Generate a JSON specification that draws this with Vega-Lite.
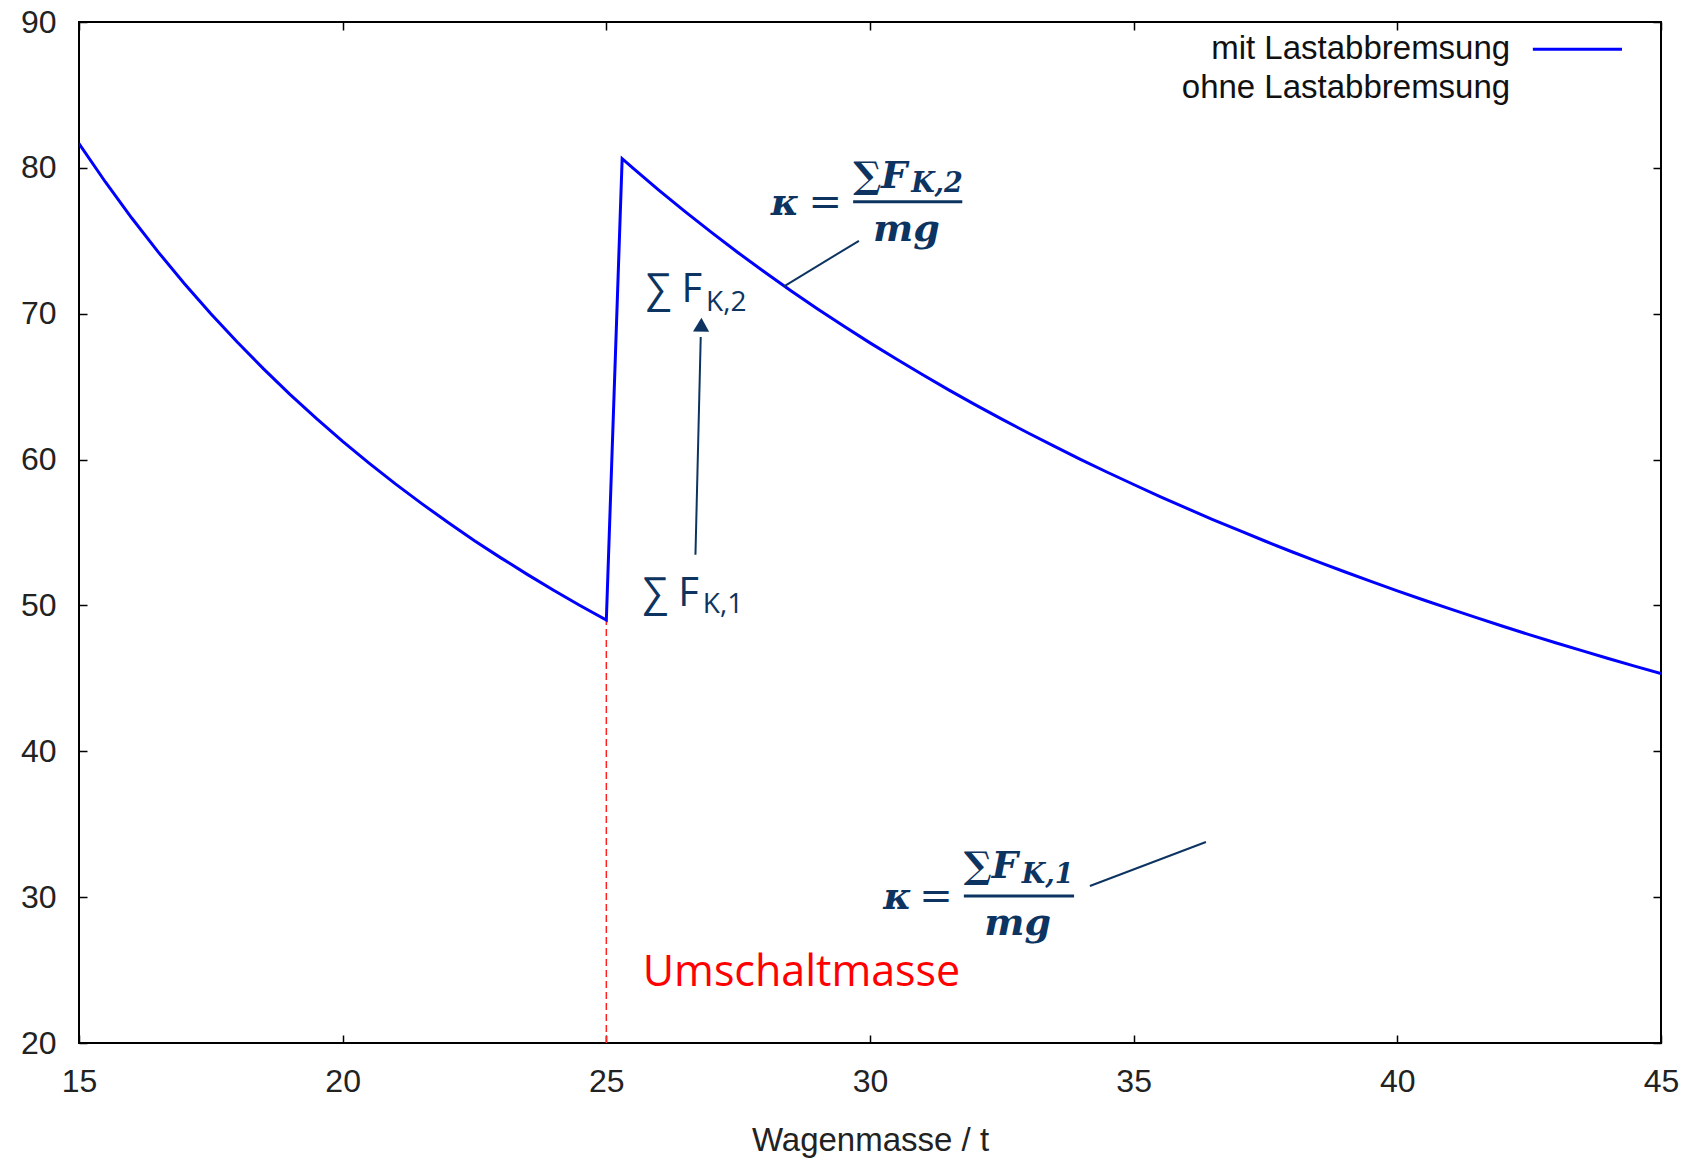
{
  "$schema": "https://vega.github.io/schema/vega-lite/v6.json",
  "autosize": {"type": "none"},
  "width": 1582,
  "height": 1021,
  "padding": {"left": 79, "top": 22, "right": 38, "bottom": 116},
  "background": "white",
  "config": {
    "view": {"stroke": "black", "strokeWidth": 2},
    "axis": {
      "domain": false,
      "grid": false,
      "tickColor": "black",
      "tickWidth": 1.5,
      "tickSize": -8,
      "labelFlush": false,
      "labelOverlap": false,
      "labelFont": "Liberation Sans",
      "labelFontSize": 32,
      "labelColor": "#222222",
      "titleFont": "Liberation Sans",
      "titleFontSize": 33,
      "titleFontWeight": "normal",
      "titleColor": "#222222"
    }
  },
  "datasets": {
    "curve": [
      {"m": 15, "k": 81.67}, {"m": 15.5, "k": 79.03}, {"m": 16, "k": 76.56}, {"m": 16.5, "k": 74.24},
      {"m": 17, "k": 72.06}, {"m": 17.5, "k": 70.0}, {"m": 18, "k": 68.06}, {"m": 18.5, "k": 66.22},
      {"m": 19, "k": 64.47}, {"m": 19.5, "k": 62.82}, {"m": 20, "k": 61.25}, {"m": 20.5, "k": 59.76},
      {"m": 21, "k": 58.33}, {"m": 21.5, "k": 56.98}, {"m": 22, "k": 55.68}, {"m": 22.5, "k": 54.44},
      {"m": 23, "k": 53.26}, {"m": 23.5, "k": 52.13}, {"m": 24, "k": 51.04}, {"m": 24.5, "k": 50.0},
      {"m": 25, "k": 49.0},
      {"m": 25.3, "k": 80.63}, {"m": 25.5, "k": 80.0}, {"m": 26, "k": 78.46}, {"m": 26.5, "k": 76.98},
      {"m": 27, "k": 75.56}, {"m": 27.5, "k": 74.18}, {"m": 28, "k": 72.86}, {"m": 28.5, "k": 71.58},
      {"m": 29, "k": 70.34}, {"m": 29.5, "k": 69.15}, {"m": 30, "k": 68.0}, {"m": 30.5, "k": 66.89},
      {"m": 31, "k": 65.81}, {"m": 31.5, "k": 64.76}, {"m": 32, "k": 63.75}, {"m": 32.5, "k": 62.77},
      {"m": 33, "k": 61.82}, {"m": 33.5, "k": 60.9}, {"m": 34, "k": 60.0}, {"m": 34.5, "k": 59.13},
      {"m": 35, "k": 58.29}, {"m": 35.5, "k": 57.46}, {"m": 36, "k": 56.67}, {"m": 36.5, "k": 55.89},
      {"m": 37, "k": 55.14}, {"m": 37.5, "k": 54.4}, {"m": 38, "k": 53.68}, {"m": 38.5, "k": 52.99},
      {"m": 39, "k": 52.31}, {"m": 39.5, "k": 51.65}, {"m": 40, "k": 51.0}, {"m": 40.5, "k": 50.37},
      {"m": 41, "k": 49.76}, {"m": 41.5, "k": 49.16}, {"m": 42, "k": 48.57}, {"m": 42.5, "k": 48.0},
      {"m": 43, "k": 47.44}, {"m": 43.5, "k": 46.9}, {"m": 44, "k": 46.36}, {"m": 44.5, "k": 45.84},
      {"m": 45, "k": 45.33}
    ]
  },
  "resolve": {"axis": {"x": "independent", "y": "independent"}},
  "layer": [
    {
      "data": {"values": [{"x": 25, "y": 20, "y2": 49}]},
      "mark": {"type": "rule", "color": "#ff2020", "strokeWidth": 1.5, "strokeDash": [7, 4]},
      "encoding": {
        "x": {"field": "x", "type": "quantitative", "scale": {"domain": [15, 45], "nice": false, "zero": false},
              "axis": {"orient": "top", "labels": false, "values": [15, 20, 25, 30, 35, 40, 45], "title": null}},
        "y": {"field": "y", "type": "quantitative", "scale": {"domain": [20, 90], "nice": false, "zero": false},
              "axis": {"orient": "right", "labels": false, "values": [20, 30, 40, 50, 60, 70, 80, 90], "title": null}},
        "y2": {"field": "y2"}
      }
    },
    {
      "data": {"name": "curve"},
      "mark": {"type": "line", "color": "#0000ff", "strokeWidth": 3, "clip": true},
      "encoding": {
        "x": {"field": "m", "type": "quantitative",
              "axis": {"orient": "bottom", "values": [15, 20, 25, 30, 35, 40, 45], "labelPadding": 31,
                       "title": "Wagenmasse / t", "titleBaseline": "middle", "titleY": 97}},
        "y": {"field": "k", "type": "quantitative",
              "axis": {"orient": "left", "values": [20, 30, 40, 50, 60, 70, 80, 90], "labelPadding": 31, "title": null}}
      }
    },
    {
      "data": {"values": [
        {"x": 28.37, "y": 71.88, "x2": 29.79, "y2": 75.0},
        {"x": 34.17, "y": 30.76, "x2": 36.37, "y2": 33.78},
        {"x": 26.69, "y": 53.47, "x2": 26.79, "y2": 68.4}
      ]},
      "mark": {"type": "rule", "color": "#0d3461", "strokeWidth": 2},
      "encoding": {
        "x": {"field": "x", "type": "quantitative", "axis": null},
        "y": {"field": "y", "type": "quantitative", "axis": null},
        "x2": {"field": "x2"},
        "y2": {"field": "y2"}
      }
    },
    {
      "data": {"values": [{"x": 26.8, "y": 69.25}]},
      "mark": {"type": "point", "shape": "triangle-up", "filled": true, "color": "#0d3461", "size": 260, "opacity": 1, "angle": 1.5},
      "encoding": {
        "x": {"field": "x", "type": "quantitative", "axis": null},
        "y": {"field": "y", "type": "quantitative", "axis": null}
      }
    },
    {
      "data": {"values": [
        {"x": 29.68, "y": 77.68, "x2": 31.75},
        {"x": 31.78, "y": 30.08, "x2": 33.87}
      ]},
      "mark": {"type": "rule", "color": "#0d3461", "strokeWidth": 3},
      "encoding": {
        "x": {"field": "x", "type": "quantitative", "axis": null},
        "y": {"field": "y", "type": "quantitative", "axis": null},
        "x2": {"field": "x2"}
      }
    },
    {
      "data": {"values": [
        {"t": "∑ F", "x": 25.75, "y": 71.61},
        {"t": "∑ F", "x": 25.69, "y": 50.77}
      ]},
      "mark": {"type": "text", "font": "Open Sans", "fontSize": 40, "color": "#0d3461", "align": "left", "baseline": "middle"},
      "encoding": {
        "x": {"field": "x", "type": "quantitative", "axis": null},
        "y": {"field": "y", "type": "quantitative", "axis": null},
        "text": {"field": "t"}
      }
    },
    {
      "data": {"values": [
        {"t": "K,2", "x": 26.89, "y": 70.72},
        {"t": "K,1", "x": 26.83, "y": 50.02}
      ]},
      "mark": {"type": "text", "font": "Open Sans", "fontSize": 28, "color": "#0d3461", "align": "left", "baseline": "middle"},
      "encoding": {
        "x": {"field": "x", "type": "quantitative", "axis": null},
        "y": {"field": "y", "type": "quantitative", "axis": null},
        "text": {"field": "t"}
      }
    },
    {
      "data": {"values": [{"t": "Umschaltmasse", "x": 25.69, "y": 24.8}]},
      "mark": {"type": "text", "font": "Open Sans", "fontSize": 43, "color": "#ff0000", "align": "left", "baseline": "middle"},
      "encoding": {
        "x": {"field": "x", "type": "quantitative", "axis": null},
        "y": {"field": "y", "type": "quantitative", "axis": null},
        "text": {"field": "t"}
      }
    },
    {
      "data": {"values": [
        {"t": "κ", "x": 28.12, "y": 77.5},
        {"t": "κ", "x": 30.25, "y": 29.94}
      ]},
      "mark": {"type": "text", "font": "DejaVu Serif", "fontSize": 38, "fontWeight": "bold", "fontStyle": "italic", "color": "#0d3461", "align": "left", "baseline": "middle"},
      "encoding": {
        "x": {"field": "x", "type": "quantitative", "axis": null},
        "y": {"field": "y", "type": "quantitative", "axis": null},
        "text": {"field": "t"}
      }
    },
    {
      "data": {"values": [
        {"t": "=", "x": 29.15, "y": 77.6},
        {"t": "=", "x": 31.25, "y": 30.04}
      ]},
      "mark": {"type": "text", "font": "DejaVu Serif", "fontSize": 40, "fontWeight": "normal", "color": "#0d3461", "align": "center", "baseline": "middle"},
      "encoding": {
        "x": {"field": "x", "type": "quantitative", "axis": null},
        "y": {"field": "y", "type": "quantitative", "axis": null},
        "text": {"field": "t"}
      }
    },
    {
      "data": {"values": [
        {"t": "∑F", "x": 29.68, "y": 79.35},
        {"t": "∑F", "x": 31.78, "y": 32.06}
      ]},
      "mark": {"type": "text", "font": "DejaVu Serif", "fontSize": 37, "fontWeight": "bold", "fontStyle": "italic", "color": "#0d3461", "align": "left", "baseline": "middle"},
      "encoding": {
        "x": {"field": "x", "type": "quantitative", "axis": null},
        "y": {"field": "y", "type": "quantitative", "axis": null},
        "text": {"field": "t"}
      }
    },
    {
      "data": {"values": [
        {"t": "K,2", "x": 30.78, "y": 78.87},
        {"t": "K,1", "x": 32.88, "y": 31.51}
      ]},
      "mark": {"type": "text", "font": "DejaVu Serif", "fontSize": 27, "fontWeight": "bold", "fontStyle": "italic", "color": "#0d3461", "align": "left", "baseline": "middle"},
      "encoding": {
        "x": {"field": "x", "type": "quantitative", "axis": null},
        "y": {"field": "y", "type": "quantitative", "axis": null},
        "text": {"field": "t"}
      }
    },
    {
      "data": {"values": [
        {"t": "mg", "x": 30.69, "y": 75.72},
        {"t": "mg", "x": 32.8, "y": 28.16}
      ]},
      "mark": {"type": "text", "font": "DejaVu Serif", "fontSize": 38, "fontWeight": "bold", "fontStyle": "italic", "color": "#0d3461", "align": "center", "baseline": "middle"},
      "encoding": {
        "x": {"field": "x", "type": "quantitative", "axis": null},
        "y": {"field": "y", "type": "quantitative", "axis": null},
        "text": {"field": "t"}
      }
    },
    {
      "data": {"values": [
        {"t": "mit Lastabbremsung", "x": 42.14, "y": 88.13},
        {"t": "ohne Lastabbremsung", "x": 42.14, "y": 85.45}
      ]},
      "mark": {"type": "text", "font": "Liberation Sans", "fontSize": 33, "color": "#111111", "align": "right", "baseline": "middle"},
      "encoding": {
        "x": {"field": "x", "type": "quantitative", "axis": null},
        "y": {"field": "y", "type": "quantitative", "axis": null},
        "text": {"field": "t"}
      }
    },
    {
      "data": {"values": [{"x": 42.57, "x2": 44.26, "y": 88.13}]},
      "mark": {"type": "rule", "color": "#0000ff", "strokeWidth": 3},
      "encoding": {
        "x": {"field": "x", "type": "quantitative", "axis": null},
        "y": {"field": "y", "type": "quantitative", "axis": null},
        "x2": {"field": "x2"}
      }
    }
  ]
}
